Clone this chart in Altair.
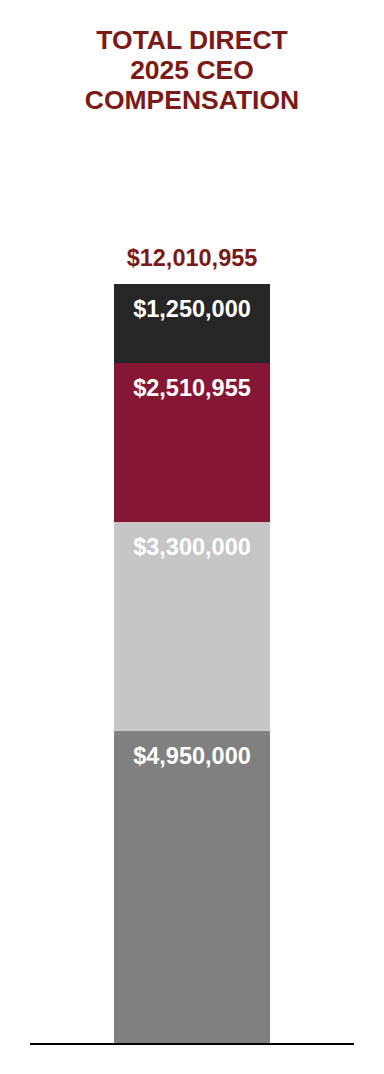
import altair as alt
import pandas as pd

# Data (bottom to top)
components = ["Component 4", "Component 3", "Component 2", "Component 1"]
values = [4950000, 3300000, 2510955, 1250000]
colors = ["#808080", "#C6C6C6", "#861734", "#262626"]
title_lines = ["TOTAL DIRECT", "2025 CEO", "COMPENSATION"]

df = pd.DataFrame({
    "bar": ["CEO"] * len(values),
    "component": components,
    "value": values,
    "order": list(range(len(values))),
    "label": ["${:,.0f}".format(v) for v in values],
})

W = 384
TOP_PAD = 150
BOTTOM_PAD = 30
H = 1074 - TOP_PAD - BOTTOM_PAD
total = sum(values)
# bar top should sit at 284 px; baseline at 1044 px
ymax = total * H / (1044 - 284)

yscale = alt.Scale(domain=[0, ymax], nice=False, zero=True)
xscale = alt.Scale(paddingInner=0, paddingOuter=0.7308)

base = alt.Chart(df)

bars = base.mark_bar(size=156).encode(
    x=alt.X("bar:N", scale=xscale, axis=None),
    y=alt.Y("value:Q", stack="zero", scale=yscale, axis=None),
    color=alt.Color("component:N", scale=alt.Scale(domain=components, range=colors), legend=None),
    order=alt.Order("order:Q", sort="ascending"),
)

labels = base.transform_window(
    top="sum(value)", sort=[alt.SortField("order")], frame=[None, 0]
).mark_text(
    font="Liberation Sans", fontWeight="bold", fontSize=23.5, color="#FFFFFF",
    baseline="alphabetic", dy=33,
).encode(
    x=alt.X("bar:N", scale=xscale, axis=None),
    y=alt.Y("top:Q", scale=yscale, axis=None),
    text="label:N",
)

total_label = base.transform_aggregate(
    total="sum(value)", groupby=["bar"]
).transform_calculate(
    tlabel="'$' + format(datum.total, ',.0f')"
).mark_text(
    font="Liberation Sans", fontWeight="bold", fontSize=23.5, color="#7B1A17",
    baseline="alphabetic", dy=-18,
).encode(
    x=alt.X("bar:N", scale=xscale, axis=None),
    y=alt.Y("total:Q", scale=yscale, axis=None),
    text="tlabel:N",
)

baseline = base.transform_aggregate(zero="min(order)").mark_rule(
    color="#000000", strokeWidth=2
).encode(
    y=alt.Y("zero:Q", scale=yscale, axis=None),
    x=alt.value(30),
    x2=alt.value(354),
)

chart = alt.layer(bars, labels, total_label, baseline).properties(
    width=W,
    height=H,
    title=alt.Title(
        text=title_lines,
        font="Liberation Sans",
        fontWeight="bold",
        fontSize=26.5,
        lineHeight=30,
        color="#7B1A17",
        anchor="middle",
        orient="top",
        offset=36,
    ),
    padding={"left": 0, "right": 0, "top": TOP_PAD, "bottom": BOTTOM_PAD},
    autosize=alt.AutoSizeParams(type="none"),
).configure(background="#FFFFFF").configure_view(stroke="transparent", strokeWidth=0)

chart.save("out.html", embed_options={"renderer": "svg", "actions": False})
